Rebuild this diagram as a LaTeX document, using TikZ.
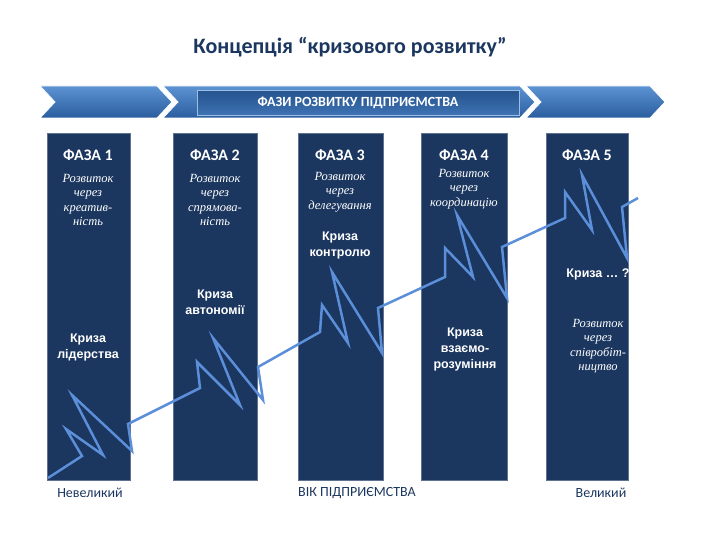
\documentclass[tikz,border=0pt]{standalone}
\usepackage{fontspec}
\setmainfont{Liberation Serif}
\setsansfont{Carlito}
\newfontfamily\arialf{Liberation Sans}
\begin{document}
\begin{tikzpicture}[x=1pt,y=-1pt,
  col/.style={fill=colnavy,draw=colnavy!70!white,line width=0.6pt},
  chev/.style={top color=chevlight,bottom color=chevdark,draw=white,line width=0.8pt},
  phase/.style={text=white,font=\sffamily\bfseries\fontsize{16}{18}\selectfont},
  dev/.style={text=white,font=\itshape\fontsize{12.5}{14.5}\selectfont,align=center},
  crisis/.style={text=white,font=\arialf\bfseries\fontsize{12.5}{16}\selectfont,align=center},
  axis/.style={text=axisblue,font=\sffamily\fontsize{14}{16}\selectfont}]
\definecolor{colnavy}{HTML}{1B365F}
\definecolor{chevlight}{HTML}{5C93D3}
\definecolor{chevdark}{HTML}{2A5D9E}
\definecolor{linec}{HTML}{5B8FDA}
\definecolor{axisblue}{HTML}{1B365F}
\definecolor{titlec}{HTML}{1B365F}
\useasboundingbox (0,0) rectangle (720,540);
\node[text=titlec,font=\sffamily\bfseries\fontsize{22}{26}\selectfont] (title) at (350,47) {Концепція “кризового розвитку”};
% chevrons
\draw[chev] (40,86) -- (157,86) -- (172,102) -- (157,118) -- (40,118) -- (55,102) -- cycle;
\draw[chev] (163,86) -- (520,86) -- (535,102) -- (520,118) -- (163,118) -- (178,102) -- cycle;
\draw[chev] (526,86) -- (650,86) -- (665,102) -- (650,118) -- (526,118) -- (541,102) -- cycle;
\node[top color=chevdark!90!black,bottom color=chevdark!60!chevlight,draw=chevlight!60!white,minimum width=322pt,minimum height=25pt,text=white,font=\sffamily\bfseries\fontsize{14}{16}\selectfont] (banner) at (358,103) {ФАЗИ РОЗВИТКУ ПІДПРИЄМСТВА};
% columns
\foreach \i/\a/\b in {1/47/130,2/173/257,3/298/383,4/421/507,5/546/628}{
  \fill[col] (\a,133) rectangle (\b,480);
}
% phases
\node[phase] (p1) at (88,155) {ФАЗА 1};
\node[phase] (p2) at (215,155) {ФАЗА 2};
\node[phase] (p3) at (340,155) {ФАЗА 3};
\node[phase] (p4) at (464,155) {ФАЗА 4};
\node[phase] (p5) at (587,155) {ФАЗА 5};
% zigzag
\draw[linec,line width=2.5pt,line join=miter] (48,478) -- (82,456) -- (66,429) -- (103,455) -- (72,395) -- (132,451) -- (128,424)
 -- (200,388) -- (197,362) -- (240,405) -- (213,338) -- (263,400) -- (258,367)
 -- (320,332) -- (322,305) -- (348,343) -- (332,272) -- (382,353) -- (378,308)
 -- (445,277) -- (445,248) -- (473,277) -- (457,215) -- (507,298) -- (502,247)
 -- (565,218) -- (565,192) -- (592,230) -- (582,175) -- (627,258) -- (622,207) -- (638,198);
% development texts
\node[dev] (d1) at (88,200) {Розвиток\\через\\креатив-\\ність};
\node[dev] (d2) at (215,200) {Розвиток\\через\\спрямова-\\ність};
\node[dev] (d3) at (340,192) {Розвиток\\через\\делегування};
\node[dev] (d4) at (464,189) {Розвиток\\через\\координацію};
\node[dev] (d5) at (598,346) {Розвиток\\через\\співробіт-\\ництво};
% crises
\node[crisis] (k1) at (88,347) {Криза\\лідерства};
\node[crisis] (k2) at (215,302) {Криза\\автономії};
\node[crisis] (k3) at (340,245) {Криза\\контролю};
\node[crisis] (k4) at (465,349) {Криза\\взаємо-\\розуміння};
\node[crisis] (k5) at (598,274) {Криза … ?};
% axis
\node[axis] (small) at (90,493) {Невеликий};
\node[axis] (age) at (357,493) {ВІК ПІДПРИЄМСТВА};
\node[axis] (big) at (601,493) {Великий};
\end{tikzpicture}
\end{document}
